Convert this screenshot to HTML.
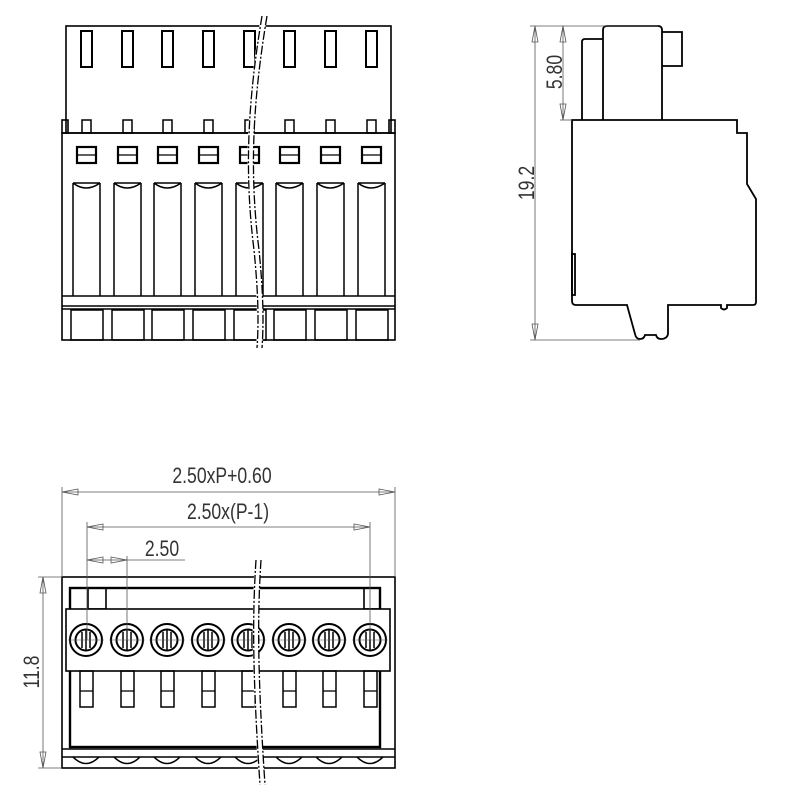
<!DOCTYPE html>
<html><head><meta charset="utf-8"><style>
html,body{margin:0;padding:0;background:#fff;}
svg{display:block;}
text{font-family:"Liberation Sans",sans-serif;fill:#333;}
</style></head><body>
<svg width="800" height="800" viewBox="0 0 800 800" xmlns="http://www.w3.org/2000/svg">
<defs>
<g id="slotT"><rect x="0" y="0" width="11" height="36" fill="none" stroke="#000" stroke-width="2"/></g>
<g id="colF">
  <rect x="1" y="-13" width="9" height="13" fill="none" stroke="#000" stroke-width="1.5"/>
  <rect x="-4" y="14" width="19" height="16" fill="none" stroke="#000" stroke-width="2.2"/>
  <line x1="-4" y1="22" x2="15" y2="22" stroke="#000" stroke-width="1.3"/>
  <path d="M-8 50 V163 M19 50 V163 M-8 50 H19 M-8 50 Q5 60 19 50" fill="none" stroke="#000" stroke-width="1.5"/>
  <rect x="-10" y="177" width="32" height="30" fill="none" stroke="#000" stroke-width="1.5"/>
</g>
<g id="term">
  <circle cx="0" cy="0" r="16" fill="none" stroke="#000" stroke-width="2"/>
  <circle cx="0" cy="0" r="10.5" fill="none" stroke="#000" stroke-width="2"/>
  <line x1="-4" y1="-8" x2="-4" y2="8" stroke="#000" stroke-width="1.5"/>
  <line x1="0" y1="-10" x2="0" y2="10" stroke="#000" stroke-width="1.5"/>
  <line x1="4" y1="-8" x2="4" y2="8" stroke="#000" stroke-width="1.5"/>
  <line x1="-18" y1="0" x2="18" y2="0" stroke="#555" stroke-width="0.5"/>
  <rect x="-6" y="31" width="13" height="36" fill="none" stroke="#000" stroke-width="1.5"/>
  <line x1="-6" y1="51" x2="7" y2="51" stroke="#000" stroke-width="1.3"/>
  <path d="M-13 117 Q0 130 13 117" fill="none" stroke="#000" stroke-width="1.5"/>
</g>
</defs>

<!-- FRONT VIEW -->
<g fill="none" stroke="#000" stroke-width="1.6">
  <rect x="66" y="26" width="325" height="107"/>
  <rect x="62" y="120" width="6" height="13"/>
  <rect x="389" y="120" width="6" height="13"/>
  <rect x="62" y="133" width="333" height="207"/>
  <line x1="62" y1="296" x2="395" y2="296"/>
  <line x1="62" y1="306" x2="395" y2="306"/>
  <line x1="62" y1="309" x2="395" y2="309"/>
</g>
<g>
  <use href="#slotT" x="81" y="31"/><use href="#slotT" x="122" y="31"/><use href="#slotT" x="162" y="31"/><use href="#slotT" x="203" y="31"/>
  <use href="#slotT" x="244" y="31"/><use href="#slotT" x="284" y="31"/><use href="#slotT" x="325" y="31"/><use href="#slotT" x="366" y="31"/>
  <use href="#colF" x="81" y="133"/><use href="#colF" x="122" y="133"/><use href="#colF" x="162" y="133"/><use href="#colF" x="203" y="133"/>
  <use href="#colF" x="244" y="133"/><use href="#colF" x="284" y="133"/><use href="#colF" x="325" y="133"/><use href="#colF" x="366" y="133"/>
</g>
<path d="M264 16 C250 100 246 170 256 250 C260 290 261 320 259 348" fill="none" stroke="#fff" stroke-width="6"/>
<path d="M262 16 C248 100 244 170 254 250 C258 290 259 320 257 348" fill="none" stroke="#000" stroke-width="1.3" stroke-dasharray="9,2,2,2"/>
<path d="M267 16 C253 100 249 170 259 250 C263 290 264 320 262 348" fill="none" stroke="#000" stroke-width="1.3" stroke-dasharray="9,2,2,2"/>

<!-- SIDE VIEW -->
<g fill="none" stroke="#000" stroke-width="1.8">
  <path d="M603 120 V30 Q603 26 607 26 H658 Q662 26 662 30 V120"/>
  <path d="M582 120 V42 Q582 39 585 39 H603"/>
  <path d="M662 32 H682 V66 H662"/>
  <path d="M572 120 H737 V133 H747 V184 L756 199 V302 Q756 305 753 305 H727 V308 Q724 311 721 308 V305 H668 V334 Q667 339 661 339 Q657 339 656 335 H645 Q644 339 640 339 Q636 339 635 334 L627 305 H576 Q572 305 572 301 Z"/>
  <rect x="572" y="254" width="3" height="41"/>
</g>
<g stroke="#555" stroke-width="0.8" fill="none">
  <line x1="530" y1="26" x2="658" y2="26"/>
  <line x1="530" y1="340" x2="640" y2="340"/>
  <line x1="560" y1="120" x2="572" y2="120"/>
  <line x1="535" y1="26" x2="535" y2="340"/>
  <line x1="563" y1="26" x2="563" y2="120"/>
  <path d="M532 42 L535 26 L538 42 Z M532 324 L535 340 L538 324 Z M560 42 L563 26 L566 42 Z M560 104 L563 120 L566 104 Z"/>
</g>
<text transform="translate(534,183) rotate(-90) scale(0.8,1)" font-size="22" text-anchor="middle">19.2</text>
<text transform="translate(562,72) rotate(-90) scale(0.8,1)" font-size="22" text-anchor="middle">5.80</text>

<!-- BOTTOM VIEW -->
<g fill="none" stroke="#000" stroke-width="1.6">
  <rect x="62" y="577" width="333" height="191"/>
  <rect x="70" y="588" width="310" height="159" stroke-width="2.4"/>
  <rect x="88" y="588" width="18" height="21"/>
  <rect x="364" y="588" width="16" height="21"/>
  <rect x="66" y="609" width="324" height="62" fill="#fff"/>
  <line x1="62" y1="749" x2="395" y2="749"/>
  <line x1="62" y1="757" x2="395" y2="757"/>
</g>
<g>
  <use href="#term" x="86" y="640"/><use href="#term" x="127" y="640"/><use href="#term" x="167" y="640"/><use href="#term" x="208" y="640"/>
  <use href="#term" x="248" y="640"/><use href="#term" x="289" y="640"/><use href="#term" x="329" y="640"/><use href="#term" x="370" y="640"/>
</g>
<path d="M258 560 C254 620 255 680 262 785" fill="none" stroke="#fff" stroke-width="6"/>
<path d="M256 560 C252 620 253 680 260 785" fill="none" stroke="#000" stroke-width="1.3" stroke-dasharray="9,2,2,2"/>
<path d="M261 560 C257 620 258 680 265 785" fill="none" stroke="#000" stroke-width="1.3" stroke-dasharray="9,2,2,2"/>

<g stroke="#555" stroke-width="0.8" fill="none">
  <line x1="62" y1="487" x2="62" y2="577"/>
  <line x1="395" y1="487" x2="395" y2="577"/>
  <line x1="62" y1="492" x2="395" y2="492"/>
  <line x1="87" y1="522" x2="87" y2="640"/>
  <line x1="370" y1="522" x2="370" y2="640"/>
  <line x1="127" y1="556" x2="127" y2="640"/>
  <line x1="87" y1="527" x2="370" y2="527"/>
  <line x1="87" y1="560" x2="185" y2="560"/>
  <line x1="38" y1="577" x2="62" y2="577"/>
  <line x1="38" y1="768" x2="62" y2="768"/>
  <line x1="43" y1="577" x2="43" y2="768"/>
  <path d="M78 489 L62 492 L78 495 Z M379 489 L395 492 L379 495 Z M103 524 L87 527 L103 530 Z M354 524 L370 527 L354 530 Z M103 557 L87 560 L103 563 Z M111 557 L127 560 L111 563 Z M40 593 L43 577 L46 593 Z M40 752 L43 768 L46 752 Z"/>
</g>
<text transform="translate(222,483) scale(0.8,1)" font-size="22" text-anchor="middle">2.50xP+0.60</text>
<text transform="translate(228,519) scale(0.8,1)" font-size="22" text-anchor="middle">2.50x(P-1)</text>
<text transform="translate(162,556) scale(0.8,1)" font-size="22" text-anchor="middle">2.50</text>
<text transform="translate(39,672) rotate(-90) scale(0.8,1)" font-size="22" text-anchor="middle">11.8</text>
</svg>
</body></html>
